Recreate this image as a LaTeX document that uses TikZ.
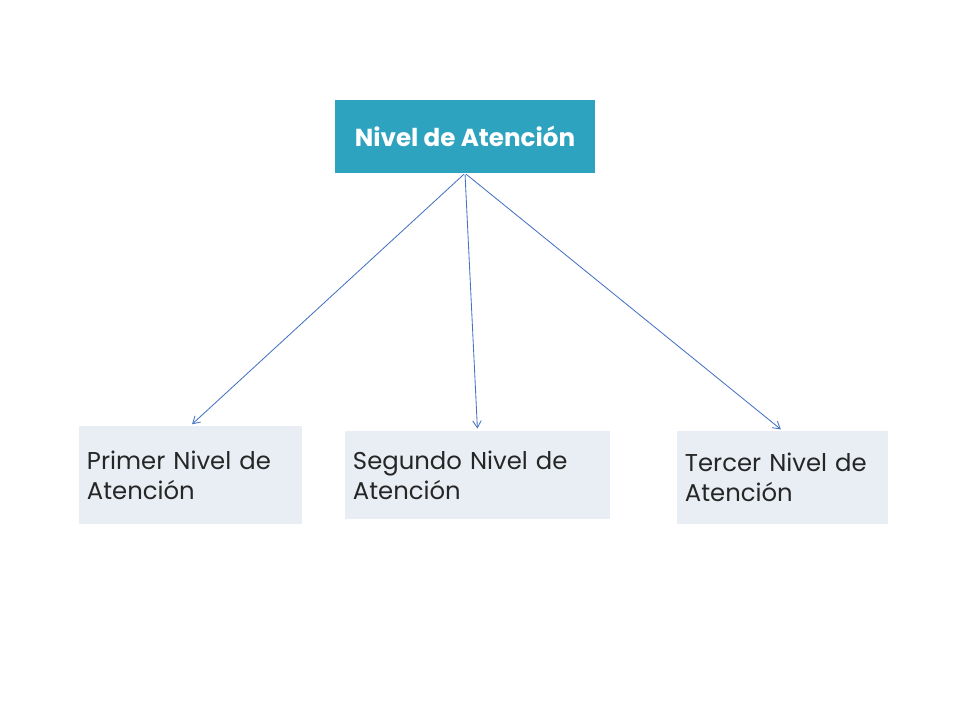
\documentclass[tikz,border=0pt]{standalone}
\usepackage{fontspec}
\setmainfont{Poppins}
\usetikzlibrary{arrows,arrows.meta,positioning}
\definecolor{topfill}{RGB}{46,163,192}
\definecolor{levelfill}{RGB}{232,238,243}
\definecolor{linkblue}{RGB}{68,114,196}
\begin{document}
\begin{tikzpicture}[x=0.025cm,y=-0.025cm,
		head/.style={fill=topfill,text=white,font=\fontsize{17.5}{21}\selectfont\bfseries,minimum width=6.5cm,minimum height=1.825cm,inner sep=0pt},
		level/.style={fill=levelfill,text=black!85,font=\fontsize{17.3}{21.3}\selectfont,align=left,inner xsep=0.2cm,inner ysep=0pt}]
		\useasboundingbox (0,0) rectangle (960,720);
		\node[head] (n0) at (465,136.5) {Nivel de Atención};
		\node[level,minimum width=5.575cm,minimum height=2.45cm,text width=5.175cm] (n1) at (190.5,475) {Primer Nivel de\\Atención};
		\node[level,minimum width=6.625cm,minimum height=2.2cm,text width=6.225cm] (n2) at (477.5,475) {Segundo Nivel de\\Atención};
		\node[level,minimum width=5.275cm,minimum height=2.325cm,text width=4.875cm] (n3) at (782.5,477.5) {Tercer Nivel de\\Atención};
		
		\foreach \f/\t in {n0/n1,n0/n2,n0/n3}{
			\draw[-{Straight Barb[length=5pt,width=6pt]},line width=0.6pt,linkblue,shorten <=1pt,shorten >=1.5pt] (\f.south) -- (\t.north);
		}
	\end{tikzpicture}
\end{document}
